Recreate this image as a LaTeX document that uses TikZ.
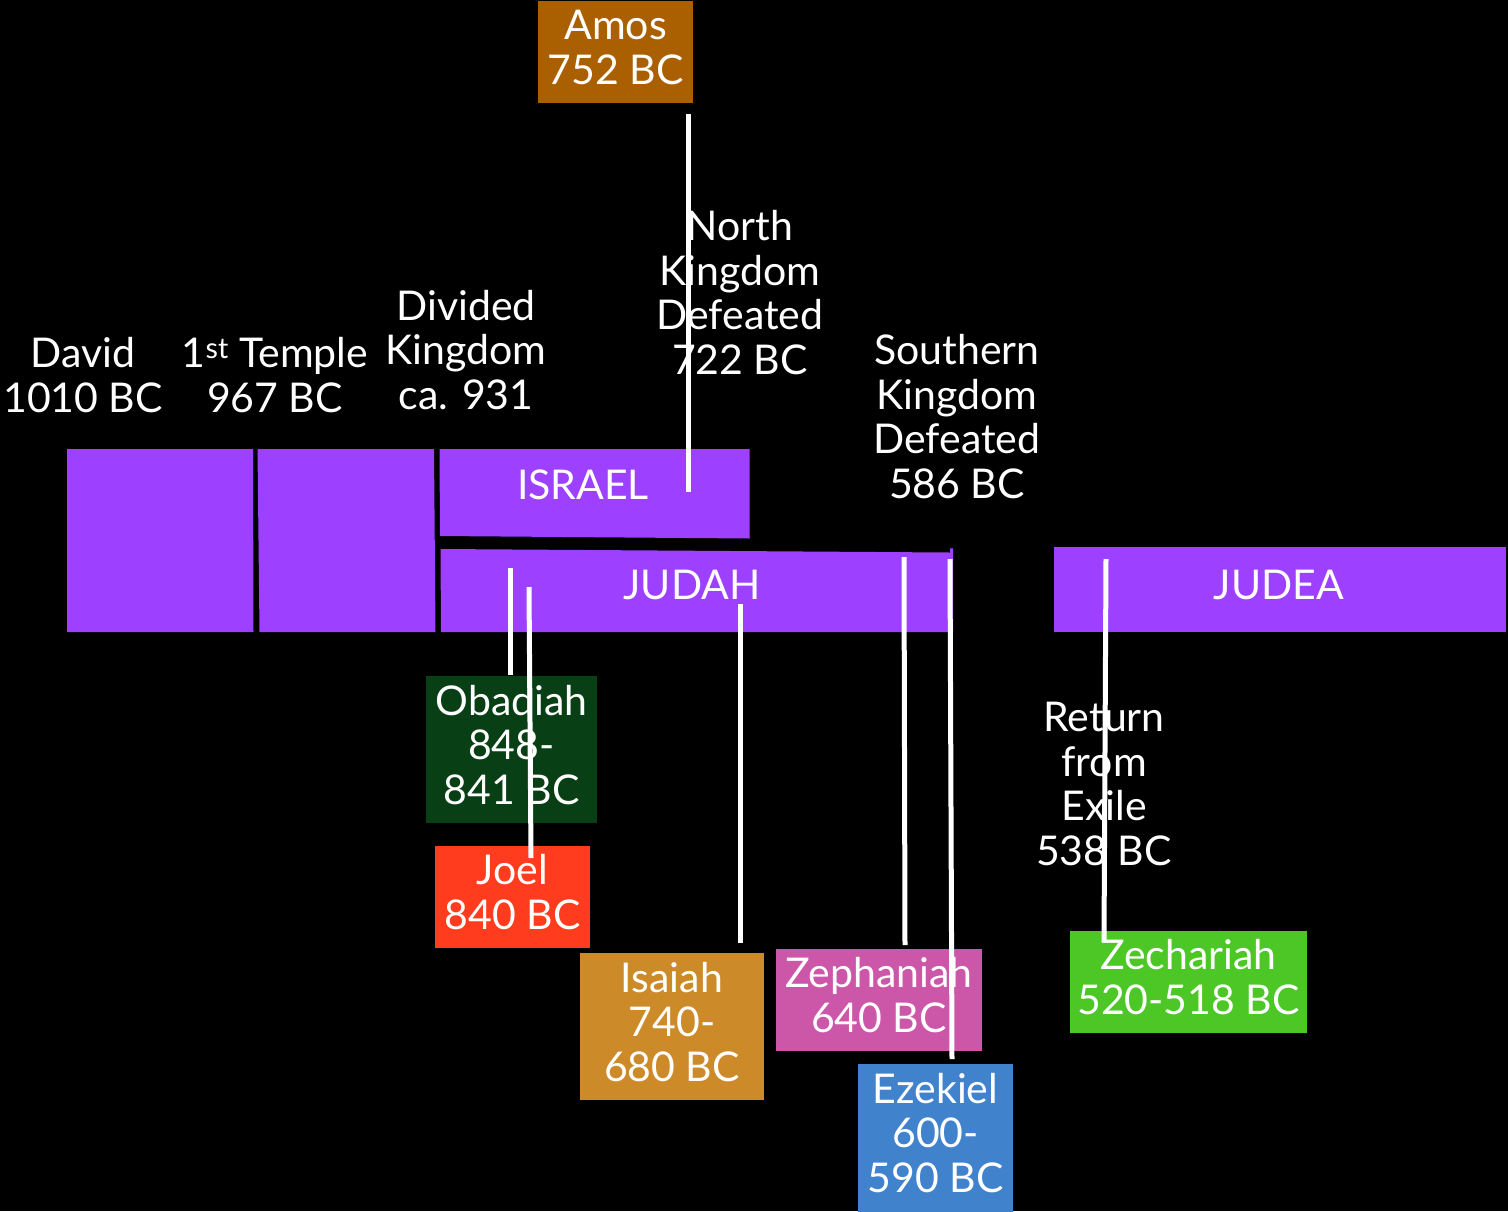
\documentclass[tikz,border=0pt]{standalone}
\usepackage{fontspec}
\setmainfont{Lato}
\definecolor{barpurple}{RGB}{157,64,255}
\definecolor{amosc}{RGB}{170,96,0}
\definecolor{obadc}{RGB}{8,63,20}
\definecolor{joelc}{RGB}{255,61,30}
\definecolor{isac}{RGB}{204,138,40}
\definecolor{zephc}{RGB}{204,87,169}
\definecolor{ezekc}{RGB}{65,130,205}
\definecolor{zechc}{RGB}{76,199,37}
\tikzset{
  lbl/.style={text=white, font=\fontsize{41}{44.5}\selectfont, align=center, inner sep=0pt, anchor=base},
  pbox/.style={draw=none, inner sep=0pt, outer sep=0pt},
  conn/.style={white, line width=5pt},
  bar/.style={fill=barpurple, draw=none},
}
\begin{document}
\begin{tikzpicture}[x=1pt,y=-1pt]
\fill[black] (0,0) rectangle (1508,1211);
\useasboundingbox (0,0) rectangle (1508,1211);
% purple bars
\fill[bar] (67,449) -- (253,449) -- (253.5,632) -- (67,632) -- cycle;
\fill[bar] (257.5,449) -- (434,449) -- (435.5,632) -- (259.5,632) -- cycle;
\fill[bar] (439.5,449) -- (749.5,449) -- (749.5,538.5) -- (440,536) -- cycle;
\fill[bar] (440.5,549) -- (950,552.5) -- (950,548.3) -- (953,548.3) -- (953,632) -- (441,632) -- cycle;
\fill[bar] (1053.5,547) -- (1505.5,547) -- (1505.5,632) -- (1053.5,632) -- cycle;
% prophet boxes
\node[pbox, fill=amosc, minimum width=155pt, minimum height=102pt] (amos) at (615.5,52) {};
\node[pbox, fill=obadc, minimum width=171pt, minimum height=147pt] (obad) at (511.5,749.5) {};
\node[pbox, fill=joelc, minimum width=155pt, minimum height=102pt] (joel) at (512.5,897) {};
\node[pbox, fill=isac, minimum width=184pt, minimum height=147pt] (isa) at (672,1026.5) {};
\node[pbox, fill=zephc, minimum width=206pt, minimum height=102pt] (zeph) at (879,1000) {};
\node[pbox, fill=ezekc, minimum width=155pt, minimum height=150pt] (ezek) at (935.5,1139) {};
\node[pbox, fill=zechc, minimum width=237pt, minimum height=102pt] (zech) at (1188.5,982) {};
% labels (anchor = baseline of last line)
\node[lbl] (davidT) at (83,412) {David\\1010 BC};
\node[lbl] (templeT) at (275,412) {1\textsuperscript{st} Temple\\967 BC};
\node[lbl] (dividedT) at (466,409) {Divided\\Kingdom\\ca. 931};
\node[lbl] (northT) at (740,374) {North\\Kingdom\\Defeated\\722 BC};
\node[lbl] (southT) at (957,498) {Southern\\Kingdom\\Defeated\\586 BC};
\node[lbl] (returnT) at (1104,865) {Return\\from\\Exile\\538 BC};
\node[lbl] (israelT) at (583,499) {ISRAEL};
\node[lbl] (judahT) at (692,599) {JUDAH};
\node[lbl] (judeaT) at (1279,599) {JUDEA};
\node[lbl] (amosT) at (615.5,84) {Amos\\752 BC};
\node[lbl] (obadT) at (511.5,804) {Obadiah\\848-\\841 BC};
\node[lbl] (joelT) at (512.5,929) {Joel\\840 BC};
\node[lbl] (isaT) at (672,1081) {Isaiah\\740-\\680 BC};
\node[lbl] (zephT) at (879,1032) {Zephaniah\\640 BC};
\node[lbl] (ezekT) at (935.5,1192) {Ezekiel\\600-\\590 BC};
\node[lbl] (zechT) at (1188.5,1014) {Zechariah\\520-518 BC};
% connector end points
\coordinate (a1) at (688,114);   \coordinate (a2) at (688,492);
\coordinate (o1) at (510,568);   \coordinate (o2) at (510,675);
\coordinate (j1) at (529,587);   \coordinate (j2) at (531,858);
\coordinate (i1) at (740,604);   \coordinate (i2) at (740,943);
\coordinate (z1) at (904,557);   \coordinate (z2) at (905,945);
\coordinate (e1) at (950,559);   \coordinate (e2) at (952,1059);
\coordinate (c1) at (1106,559);  \coordinate (c2) at (1104,942);
\draw[conn] (a1) -- (a2);
\draw[conn] (o1) -- (o2);
\draw[conn] (j1) -- (j2);
\draw[conn] (i1) -- (i2);
\draw[conn] (z1) -- (z2);
\draw[conn] (e1) -- (e2);
\draw[conn] (c1) -- (c2);
\end{tikzpicture}
\end{document}
